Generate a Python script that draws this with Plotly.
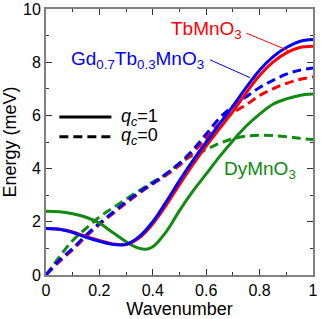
import plotly.graph_objects as go

x = [0, 0.05, 0.1, 0.15, 0.2, 0.25, 0.3, 0.35, 0.4, 0.45, 0.5,
     0.55, 0.6, 0.65, 0.7, 0.75, 0.8, 0.85, 0.9, 0.95, 1.0]

tb_q1 = [1.75, 1.72, 1.62, 1.45, 1.3, 1.17, 1.15, 1.4, 1.92, 2.62, 3.4,
         4.15, 4.85, 5.5, 6.15, 6.85, 7.5, 8.0, 8.35, 8.55, 8.6]
gd_q1 = [1.75, 1.72, 1.6, 1.42, 1.27, 1.15, 1.15, 1.45, 2.0, 2.75, 3.55,
         4.3, 5.0, 5.68, 6.35, 7.05, 7.7, 8.2, 8.55, 8.78, 8.85]
x_dy = [0, 0.05, 0.1, 0.15, 0.2, 0.25, 0.3, 0.325, 0.35, 0.375, 0.4, 0.45, 0.5,
        0.55, 0.6, 0.65, 0.7, 0.75, 0.8, 0.85, 0.9, 0.95, 1.0]
dy_q1 = [2.4, 2.38, 2.3, 2.17, 1.95, 1.6, 1.25, 1.1, 1.0, 0.97, 1.06, 1.62, 2.42,
         3.15, 3.8, 4.45, 5.05, 5.6, 6.05, 6.42, 6.62, 6.75, 6.8]

tb_q0 = [0, 0.5, 0.95, 1.45, 1.9, 2.3, 2.7, 3.08, 3.42, 3.75, 4.12,
         4.6, 5.15, 5.7, 6.1, 6.4, 6.75, 7.0, 7.2, 7.35, 7.45]
gd_q0 = [0, 0.55, 1.0, 1.5, 1.94, 2.35, 2.75, 3.12, 3.45, 3.8, 4.2,
         4.7, 5.3, 5.9, 6.35, 6.7, 7.05, 7.32, 7.55, 7.7, 7.78]
dy_q0 = [0, 0.68, 1.3, 1.75, 2.18, 2.52, 2.85, 3.18, 3.5, 3.8, 4.2,
         4.5, 4.72, 4.95, 5.12, 5.22, 5.25, 5.24, 5.2, 5.14, 5.09]

x_ticks = [0, 0.2, 0.4, 0.6, 0.8, 1]
x_tick_labels = ["0", "0.2", "0.4", "0.6", "0.8", "1"]
y_ticks = [0, 2, 4, 6, 8, 10]
y_tick_labels = ["0", "2", "4", "6", "8", "10"]

RED = "#ff0000"
BLUE = "#0000ff"
GREEN = "#108a10"
DASH = "9px,5px"
LW = 3

fig = go.Figure()
fig.add_trace(go.Scatter(x=x, y=dy_q0, mode="lines", line=dict(color=GREEN, width=LW, dash=DASH, shape="spline")))
fig.add_trace(go.Scatter(x=x, y=tb_q0, mode="lines", line=dict(color=RED, width=LW, dash=DASH, shape="spline")))
fig.add_trace(go.Scatter(x=x, y=gd_q0, mode="lines", line=dict(color=BLUE, width=LW, dash=DASH, shape="spline")))
fig.add_trace(go.Scatter(x=x_dy, y=dy_q1, mode="lines", line=dict(color=GREEN, width=LW, shape="spline")))
fig.add_trace(go.Scatter(x=x, y=tb_q1, mode="lines", line=dict(color=RED, width=LW, shape="spline")))
fig.add_trace(go.Scatter(x=x, y=gd_q1, mode="lines", line=dict(color=BLUE, width=LW, shape="spline")))

FONT = "Arial, Liberation Sans, sans-serif"

axis_common = dict(
    showline=True, linecolor="#808080", linewidth=2, mirror="ticks",
    ticks="inside", ticklen=6, tickwidth=1.2, tickcolor="#333",
    showgrid=False, zeroline=False, automargin=False,
    tickfont=dict(size=16, color="black", family=FONT),
    minor=dict(ticks="inside", ticklen=3, tickwidth=1, tickcolor="#333"),
)

fig.update_xaxes(range=[0, 1], tickvals=x_ticks, ticktext=x_tick_labels,
                 minor_dtick=0.1,
                 title=dict(text="Wavenumber", font=dict(size=18, family=FONT, color="black"), standoff=0),
                 **axis_common)
fig.update_yaxes(range=[0, 10], tickvals=y_ticks, ticktext=y_tick_labels,
                 minor_dtick=1,
                 title=dict(text="Energy (meV)", font=dict(size=18, family=FONT, color="black"), standoff=4),
                 **axis_common)

# legend key lines
fig.add_shape(type="line", xref="x", yref="y", x0=0.05, x1=0.245, y0=5.94, y1=5.94,
              line=dict(color="black", width=LW))
fig.add_shape(type="line", xref="x", yref="y", x0=0.05, x1=0.245, y0=5.2, y1=5.2,
              line=dict(color="black", width=LW, dash=DASH))
fig.add_annotation(x=0.275, y=5.94, xref="x", yref="y", xanchor="left", showarrow=False,
                   text="<i>q</i><sub><i>c</i></sub>=1", font=dict(size=18, family=FONT, color="black"))
fig.add_annotation(x=0.275, y=5.2, xref="x", yref="y", xanchor="left", showarrow=False,
                   text="<i>q</i><sub><i>c</i></sub>=0", font=dict(size=18, family=FONT, color="black"))

# labels
fig.add_annotation(x=0.46, y=9.2, xref="x", yref="y", xanchor="left", showarrow=False,
                   text="TbMnO<sub>3</sub>", font=dict(size=19, family=FONT, color=RED))
fig.add_annotation(x=0.085, y=8.08, xref="x", yref="y", xanchor="left", showarrow=False,
                   text="Gd<sub>0.7</sub>Tb<sub>0.3</sub>MnO<sub>3</sub>", font=dict(size=19, family=FONT, color=BLUE))
fig.add_annotation(x=0.66, y=3.93, xref="x", yref="y", xanchor="left", showarrow=False,
                   text="DyMnO<sub>3</sub>", font=dict(size=19, family=FONT, color=GREEN))
fig.add_shape(type="line", xref="x", yref="y", x0=0.751, y0=9.09, x1=0.907, y1=8.44,
              line=dict(color=RED, width=1))
fig.add_shape(type="line", xref="x", yref="y", x0=0.614, y0=8.09, x1=0.764, y1=7.42,
              line=dict(color=BLUE, width=1))

fig.update_layout(
    width=324, height=319,
    margin=dict(l=46, r=11, t=9, b=44),
    plot_bgcolor="white", paper_bgcolor="white",
    showlegend=False,
    font=dict(family=FONT),
)

fig.write_html("out.html",
               config={"displayModeBar": False},
               post_script="document.body.style.margin='0';document.body.style.overflow='hidden';")
